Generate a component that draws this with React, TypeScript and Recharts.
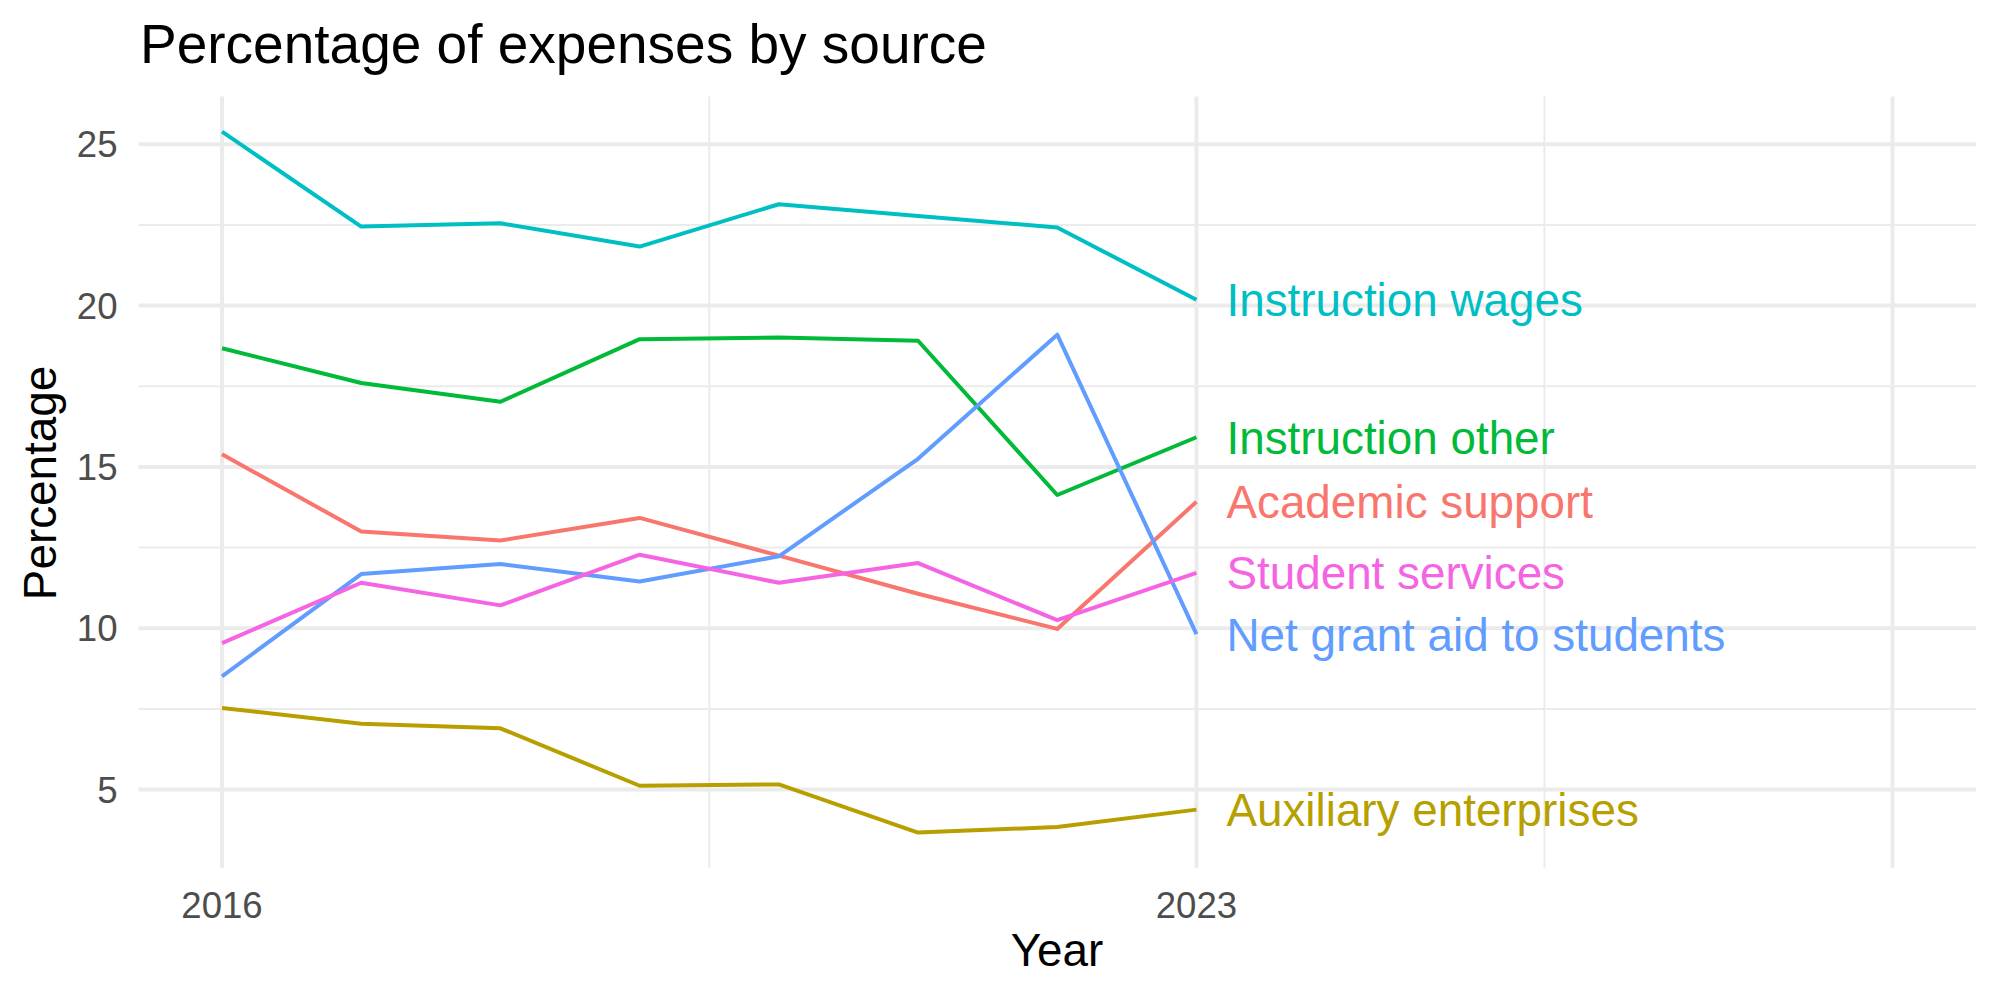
import React from "react";
import { LineChart, Line, XAxis, YAxis, CartesianGrid } from "recharts";

const years = [2016, 2017, 2018, 2019, 2020, 2021, 2022, 2023];

const academicSupport = [15.39, 13.0, 12.72, 13.42, 12.25, 11.07, 9.98, 13.92];
const auxiliaryEnterprises = [7.53, 7.04, 6.9, 5.12, 5.16, 3.67, 3.84, 4.38];
const instructionOther = [18.68, 17.6, 17.02, 18.96, 19.01, 18.91, 14.13, 15.92];
const instructionWages = [25.39, 22.45, 22.55, 21.83, 23.14, 22.78, 22.42, 20.18];
const netGrantAid = [8.51, 11.68, 11.99, 11.45, 12.23, 15.25, 19.1, 9.82];
const studentServices = [9.54, 11.41, 10.71, 12.28, 11.41, 12.02, 10.25, 11.72];

const yTicks = [5, 10, 15, 20, 25];
const yMinorGrid = [7.5, 12.5, 17.5, 22.5];
const xTicks = [2016, 2023];
const xMajorGrid = [2016, 2023, 2028];
const xMinorGrid = [2019.5, 2025.5];

const series = [
  { key: "academic", name: "Academic support", color: "#F8766D", values: academicSupport },
  { key: "auxiliary", name: "Auxiliary enterprises", color: "#B79F00", values: auxiliaryEnterprises },
  { key: "instrOther", name: "Instruction other", color: "#00BA38", values: instructionOther },
  { key: "instrWages", name: "Instruction wages", color: "#00BFC4", values: instructionWages },
  { key: "netGrant", name: "Net grant aid to students", color: "#619CFF", values: netGrantAid },
  { key: "student", name: "Student services", color: "#F564E3", values: studentServices },
];

const data = years.map((year, i) => {
  const row: Record<string, number> = { year };
  series.forEach((s) => {
    row[s.key] = s.values[i];
  });
  return row;
});

const FONT = "'Liberation Sans', Arial, Helvetica, sans-serif";
const lastIndex = years.length - 1;

// name at the right end of each line, like ggplot's geom_text
const endLabel = (name: string, color: string) => (props: any) => {
  if (props.index !== lastIndex) return <g />;
  return (
    <text
      x={props.x + 30}
      y={props.y}
      dy="0.36em"
      fill={color}
      fontSize={45.8}
      fontFamily={FONT}
    >
      {name}
    </text>
  );
};

export default function App() {
  return (
    <div style={{ position: "absolute", left: 0, top: 0, width: 2000, height: 1000, background: "#fff" }}>
      <LineChart
        width={2000}
        height={1000}
        data={data}
        margin={{ top: 96.5, right: 24, bottom: 0, left: 0 }}
      >
        <CartesianGrid
          stroke="#EBEBEB"
          strokeWidth={2}
          horizontalValues={yMinorGrid}
          verticalValues={xMinorGrid}
        />
        <CartesianGrid
          stroke="#EBEBEB"
          strokeWidth={4}
          horizontalValues={yTicks}
          verticalValues={xMajorGrid}
        />
        <XAxis
          dataKey="year"
          type="number"
          domain={[2015.4, 2028.6]}
          ticks={xTicks}
          allowDataOverflow
          axisLine={false}
          tickLine={false}
          tickSize={0}
          tickMargin={24}
          height={132.3}
          tick={{ fill: "#4D4D4D", fontSize: 36.6, fontFamily: FONT }}
        />
        <YAxis
          type="number"
          domain={[2.58, 26.48]}
          ticks={yTicks}
          allowDataOverflow
          axisLine={false}
          tickLine={false}
          tickSize={0}
          tickMargin={21}
          width={138.5}
          tick={{ fill: "#4D4D4D", fontSize: 36.6, fontFamily: FONT }}
        />
        {series.map((s) => (
          <Line
            key={s.key}
            dataKey={s.key}
            name={s.name}
            stroke={s.color}
            strokeWidth={4}
            strokeLinejoin="round"
            dot={false}
            activeDot={false}
            isAnimationActive={false}
            label={endLabel(s.name, s.color)}
          />
        ))}
      </LineChart>
      <svg
        width={2000}
        height={1000}
        style={{ position: "absolute", left: 0, top: 0, pointerEvents: "none" }}
      >
        <text x={140} y={63} fontSize={55} fontFamily={FONT} fill="#000">
          Percentage of expenses by source
        </text>
        <text x={1057} y={966} fontSize={45.8} fontFamily={FONT} fill="#000" textAnchor="middle">
          Year
        </text>
        <text
          transform="translate(56,483) rotate(-90)"
          fontSize={45.8}
          fontFamily={FONT}
          fill="#000"
          textAnchor="middle"
        >
          Percentage
        </text>
      </svg>
    </div>
  );
}
